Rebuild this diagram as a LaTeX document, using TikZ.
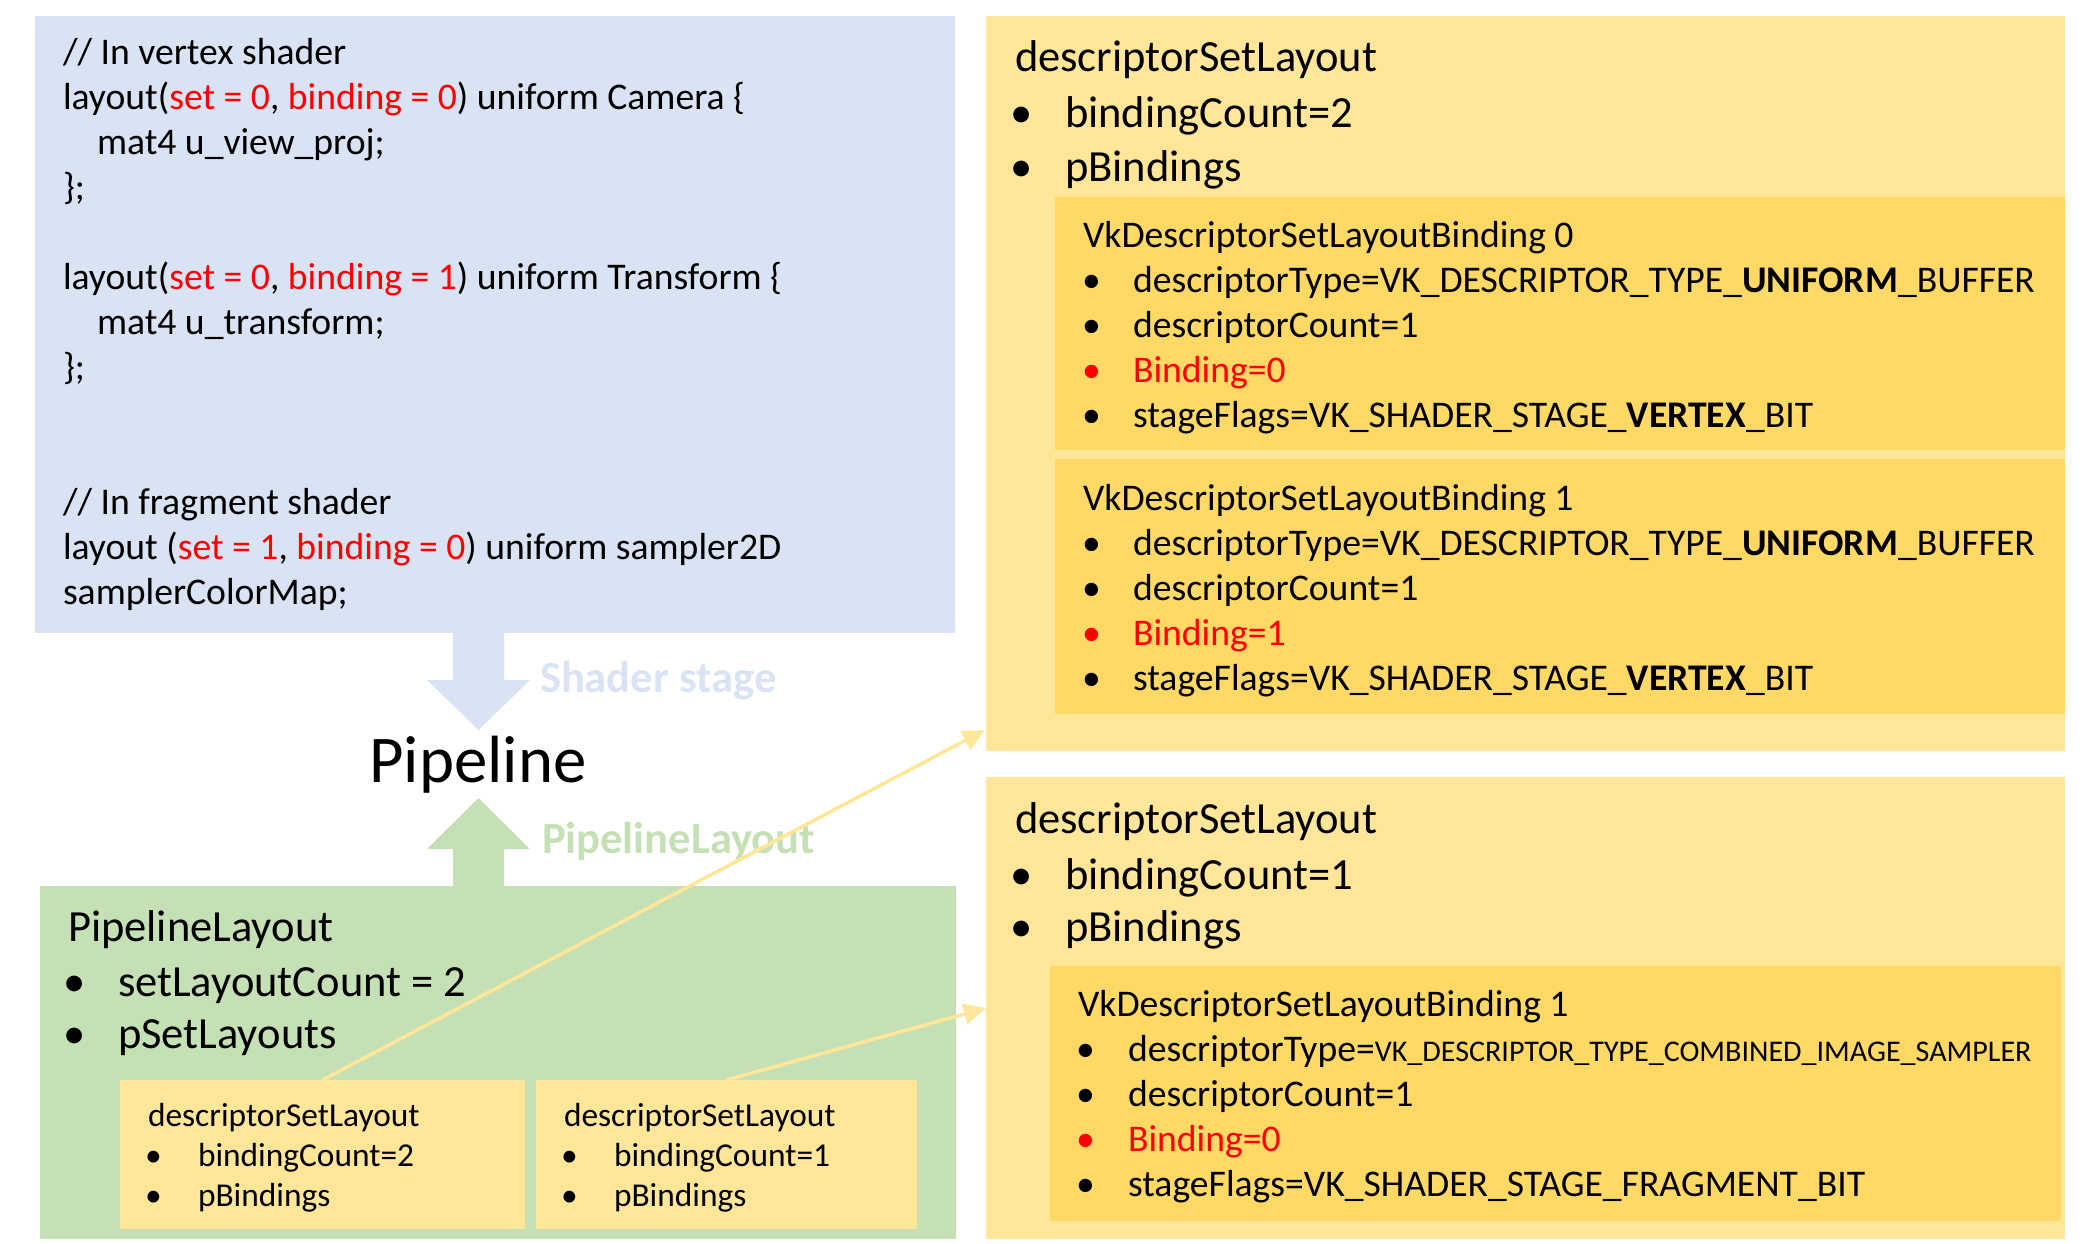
\documentclass[tikz,border=0pt]{standalone}
\usepackage{fontspec}
\setmainfont{Carlito}
\usetikzlibrary{arrows.meta,fit}
\definecolor{cblue}{HTML}{DAE3F3}
\definecolor{cgreen}{HTML}{C5E0B4}
\definecolor{cyl}{HTML}{FFE699}
\definecolor{cyd}{HTML}{FFD966}
\definecolor{cred}{HTML}{FF0000}
\newcommand{\rd}[1]{\textcolor{cred}{#1}}
\newcommand{\bitem}[6]{%
  \node[#1] (#2b) at (#3,#5) {\textbullet};
  \node[#1] (#2) at (#4,#5) {#6};}
\tikzset{
  box/.style={inner sep=0pt, outer sep=0pt, draw=none},
  bluebox/.style={box, fill=cblue},
  greenbox/.style={box, fill=cgreen},
  lightbox/.style={box, fill=cyl},
  darkbox/.style={box, fill=cyd},
  ln/.style={anchor=base west, inner sep=0pt, outer sep=0pt},
  fA/.style={ln, font=\fontsize{24}{29}\selectfont},
  fB/.style={ln, font=\fontsize{20.3}{24}\selectfont},
  fC/.style={ln, font=\fontsize{18}{22}\selectfont},
  conn/.style={draw=cyl, line width=1.9pt, -{Triangle[length=12pt,width=11pt]}},
}
\begin{document}
\begin{tikzpicture}[x=0.539pt, y=-0.539pt]
\useasboundingbox (0,0) rectangle (2082,1243);
% boxes
\node[bluebox, fit={(35,16) (955,633)}] (code) {};
\node[greenbox, fit={(40,886) (956,1239)}] (pl) {};
\node[lightbox, fit={(120,1080) (525,1229)}] (sb1) {};
\node[lightbox, fit={(536,1080) (917,1229)}] (sb2) {};
\node[lightbox, fit={(986,16) (2065,751)}] (rt) {};
\node[darkbox, fit={(1055,197) (2065,450)}] (rtb0) {};
\node[darkbox, fit={(1055,459) (2065,714)}] (rtb1) {};
\node[lightbox, fit={(986,777) (2065,1239)}] (rb) {};
\node[darkbox, fit={(1050,966) (2061,1221)}] (rbb1) {};
% block arrows
\fill[cblue] (453,632) -- (453,680) -- (427,680) -- (478.5,730) -- (530,680) -- (504,680) -- (504,632) -- cycle;
\fill[cgreen] (453,887) -- (453,849) -- (427,849) -- (478.5,798) -- (530,849) -- (504,849) -- (504,887) -- cycle;
% code
\node[fB] (c1) at (63,64) {// In vertex shader};
\node[fB] (c2) at (63,109) {layout(\rd{set = 0}, \rd{binding = 0}) uniform Camera \{};
\node[fB] (c3) at (97,154) {mat4 u\_view\_proj;};
\node[fB] (c4) at (63,199) {\};};
\node[fB] (c5) at (63,289) {layout(\rd{set = 0}, \rd{binding = 1}) uniform Transform \{};
\node[fB] (c6) at (97,334) {mat4 u\_transform;};
\node[fB] (c7) at (63,379) {\};};
\node[fB] (c8) at (63,514) {// In fragment shader};
\node[fB] (c9) at (63,559) {layout (\rd{set = 1}, \rd{binding = 0}) uniform sampler2D};
\node[fB] (c10) at (63,604) {samplerColorMap;};
% pipeline labels
\node[anchor=base, inner sep=0pt, font=\fontsize{36}{43}\selectfont] (pipe) at (478,782) {Pipeline};
\node[fA, font=\fontsize{24}{29}\selectfont\bfseries, text=cblue] (lshader) at (540,692) {Shader stage};
\node[fA, font=\fontsize{24}{29}\selectfont\bfseries, text=cgreen] (llayout) at (542,853) {PipelineLayout};
% pipeline layout box
\node[fA] (plt) at (68,941) {PipelineLayout};
\bitem{fA}{pl1}{63}{118}{996}{setLayoutCount = 2}
\bitem{fA}{pl2}{63}{118}{1048}{pSetLayouts}
% small boxes
\node[fC] (s1t) at (148,1126) {descriptorSetLayout};
\bitem{fC}{s11}{145}{198}{1166}{bindingCount=2}
\bitem{fC}{s12}{145}{198}{1206}{pBindings}
\node[fC] (s2t) at (564,1126) {descriptorSetLayout};
\bitem{fC}{s21}{561}{614}{1166}{bindingCount=1}
\bitem{fC}{s22}{561}{614}{1206}{pBindings}
% right top
\node[fA] (rtt) at (1015,71) {descriptorSetLayout};
\bitem{fA}{rt1}{1010}{1065}{127}{bindingCount=2}
\bitem{fA}{rt2}{1010}{1065}{181}{pBindings}
\node[fB] (b0t) at (1083,247) {VkDescriptorSetLayoutBinding 0};
\bitem{fB}{b01}{1082}{1133}{292}{descriptorType=VK\_DESCRIPTOR\_TYPE\_\textbf{UNIFORM}\_BUFFER}
\bitem{fB}{b02}{1082}{1133}{337}{descriptorCount=1}
\bitem{fB,text=cred}{b03}{1082}{1133}{382}{Binding=0}
\bitem{fB}{b04}{1082}{1133}{427}{stageFlags=VK\_SHADER\_STAGE\_\textbf{VERTEX}\_BIT}
\node[fB] (b1t) at (1083,510) {VkDescriptorSetLayoutBinding 1};
\bitem{fB}{b11}{1082}{1133}{555}{descriptorType=VK\_DESCRIPTOR\_TYPE\_\textbf{UNIFORM}\_BUFFER}
\bitem{fB}{b12}{1082}{1133}{600}{descriptorCount=1}
\bitem{fB,text=cred}{b13}{1082}{1133}{645}{Binding=1}
\bitem{fB}{b14}{1082}{1133}{690}{stageFlags=VK\_SHADER\_STAGE\_\textbf{VERTEX}\_BIT}
% right bottom
\node[fA] (rbt) at (1015,833) {descriptorSetLayout};
\bitem{fA}{rb1}{1010}{1065}{889}{bindingCount=1}
\bitem{fA}{rb2}{1010}{1065}{941}{pBindings}
\node[fB] (c1t) at (1078,1016) {VkDescriptorSetLayoutBinding 1};
\bitem{fB}{c11}{1076}{1128}{1061}{descriptorType={\fontsize{16.2}{19}\selectfont VK\_DESCRIPTOR\_TYPE\_COMBINED\_IMAGE\_SAMPLER}}
\bitem{fB}{c12}{1076}{1128}{1106}{descriptorCount=1}
\bitem{fB,text=cred}{c13}{1076}{1128}{1151}{Binding=0}
\bitem{fB}{c14}{1076}{1128}{1196}{stageFlags=VK\_SHADER\_STAGE\_FRAGMENT\_BIT}
% connectors
\coordinate (rtin) at (985,730);
\draw[conn] (sb1.north) -- (rtin);
\draw[conn] (sb2.north) -- (rb.west);
\end{tikzpicture}
\end{document}
